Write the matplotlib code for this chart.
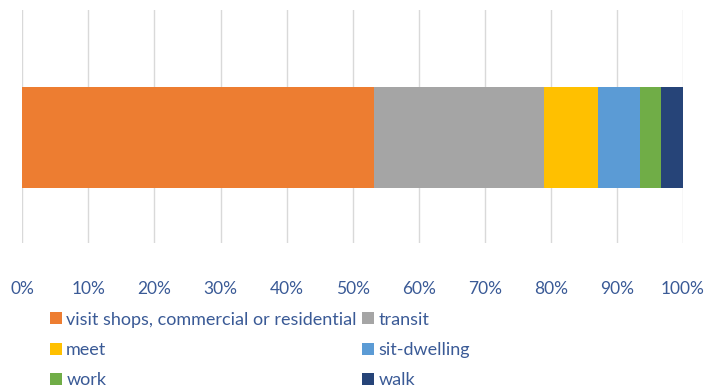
import matplotlib.pyplot as plt
from matplotlib.ticker import PercentFormatter

## data (shares in %)
categories = ["visit shops, commercial or residential", "transit", "meet",
              "sit-dwelling", "work", "walk"]
shares = [53.2, 25.8, 8.2, 6.3, 3.2, 3.3]
colors = ["#ED7D31", "#A5A5A5", "#FFC000", "#5B9BD5", "#70AD47", "#264478"]
ticks = [0, 10, 20, 30, 40, 50, 60, 70, 80, 90, 100]

text_col = "#3A5A96"
plt.rcParams['font.family'] = ['Lato', 'DejaVu Sans']

fig = plt.figure(figsize=(7.18, 3.87), dpi=100)
ax = fig.add_axes([0.0312, 0.372, 0.9198, 0.602])

left = 0
for name, val, col in zip(categories, shares, colors):
    ax.barh(0, val, left=left, height=0.433, color=col, label=name, zorder=2)
    left += val

ax.set_xlim(0, 100)
ax.set_ylim(-0.453, 0.547)
ax.set_xticks(ticks)
ax.xaxis.set_major_formatter(PercentFormatter(decimals=0))
ax.set_yticks([])
ax.grid(axis='x', color='#D9D9D9', linewidth=1, zorder=0)
for s in ax.spines.values():
    s.set_visible(False)
ax.tick_params(axis='x', length=0, pad=27, labelsize=12.5, labelcolor=text_col)

## legend: row-wise order in two columns
h, l = ax.get_legend_handles_labels()
order = [0, 2, 4, 1, 3, 5]
fig.legend([h[i] for i in order], [l[i] for i in order], ncol=2,
           loc='upper left', bbox_to_anchor=(0.0696, 0.195), frameon=False,
           fontsize=13, labelcolor=text_col, handlelength=0.65, handleheight=0.65,
           handletextpad=0.25, columnspacing=0.3, labelspacing=0.8,
           borderpad=0, borderaxespad=0)

fig.savefig("out.png", dpi=100)
